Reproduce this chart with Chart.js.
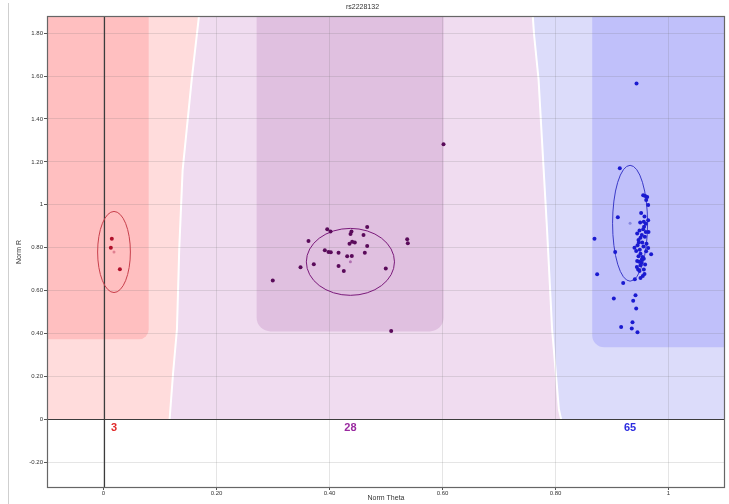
<!DOCTYPE html>
<html>
<head>
<meta charset="utf-8">
<title>rs2228132</title>
<script src="https://cdn.jsdelivr.net/npm/chart.js@4/dist/chart.umd.min.js"></script>
<style>
  html, body { margin: 0; padding: 0; background: #ffffff; }
  #plot { display: block; }
</style>
</head>
<body>
<canvas id="plot" width="729" height="504"></canvas>
<script>
// ---- Genotype calls: normalised theta / R per sample ----
const aaTheta = [0.0147, 0.0130, 0.0290];
const aaR     = [0.842, 0.800, 0.700];

const abTheta = [0.2996, 0.3487, 0.3628, 0.3722, 0.3960, 0.4018, 0.3917, 0.3982, 0.4023, 0.4160,
                 0.4160, 0.4253, 0.4313, 0.4395, 0.4354, 0.4402, 0.4448, 0.4372, 0.4389, 0.4602,
                 0.4667, 0.4667, 0.4625, 0.4996, 0.5375, 0.5386, 0.5092, 0.6018];
const abR     = [0.647, 0.709, 0.831, 0.723, 0.886, 0.875, 0.788, 0.780, 0.779, 0.777,
                 0.715, 0.691, 0.760, 0.761, 0.819, 0.828, 0.824, 0.864, 0.875, 0.859,
                 0.896, 0.808, 0.777, 0.703, 0.839, 0.821, 0.412, 1.282];

const bbTheta = [0.9434, 0.9138, 0.9552, 0.9587, 0.9623, 0.9605, 0.9640, 0.9103, 0.9575, 0.9640,
                 0.9499, 0.9563, 0.9568, 0.9552, 0.9598, 0.9646, 0.9446, 0.9528, 0.8690, 0.9504,
                 0.9469, 0.9475, 0.9535, 0.9611, 0.9398, 0.9640, 0.9428, 0.9056, 0.9504, 0.9693,
                 0.9540, 0.9563, 0.9446, 0.9481, 0.9522, 0.8737, 0.9504, 0.9463, 0.9563, 0.9487,
                 0.9575, 0.9545, 0.9504, 0.9404, 0.9198, 0.9416, 0.9032, 0.9375, 0.9428, 0.9363,
                 0.9162, 0.9350, 0.9451, 0.9516, 0.9598, 0.9487, 0.9581, 0.9452, 0.9557, 0.9492,
                 0.9604, 0.9469, 0.9528, 0.9586, 0.9440];
const bbR     = [1.565, 1.170, 1.044, 1.041, 1.036, 1.022, 0.999, 0.942, 0.946, 0.928,
                 0.918, 0.921, 0.898, 0.886, 0.873, 0.873, 0.866, 0.859, 0.842, 0.847,
                 0.836, 0.824, 0.824, 0.819, 0.800, 0.799, 0.785, 0.780, 0.772, 0.769,
                 0.757, 0.749, 0.738, 0.735, 0.730, 0.676, 0.718, 0.699, 0.699, 0.692,
                 0.678, 0.668, 0.659, 0.653, 0.636, 0.578, 0.563, 0.553, 0.517, 0.452,
                 0.430, 0.424, 0.406, 0.962, 0.912, 0.880, 0.851, 0.812, 0.806, 0.790,
                 0.783, 0.760, 0.745, 0.722, 0.710];

// ---- Cluster definitions (AA, AB, BB) ----
const clusterTheta  = [0.0186, 0.437, 0.932];
const clusterR      = [0.780, 0.734, 0.914];
const clusterThetaSd = [0.029, 0.078, 0.031];
const clusterRSd     = [0.189, 0.156, 0.270];

// core call zones
const coreThetaMin = [-0.10, 0.271, 0.865];
const coreThetaMax = [0.080, 0.602, 1.100];
const coreRMin     = [0.373, 0.410, 0.336];

// boundaries between AA|AB and AB|BB call regions
const leftBoundaryR      = [0, 0.21, 0.42, 0.79, 1.16, 1.58, 1.95];
const leftBoundaryTheta  = [0.117, 0.123, 0.130, 0.134, 0.140, 0.156, 0.172];
const rightBoundaryR     = [0, 0.047, 0.233, 0.42, 0.629, 0.886, 1.585, 1.795, 1.95];
const rightBoundaryTheta = [0.810, 0.806, 0.800, 0.794, 0.790, 0.785, 0.770, 0.762, 0.758];

// ---- Axis ticks ----
const xTicks = [0, 0.2, 0.4, 0.6, 0.8, 1];
const yTicks = [-0.2, 0, 0.2, 0.4, 0.6, 0.8, 1, 1.2, 1.4, 1.6, 1.8];

const zoneLight = ['#ffdcdc', '#f0dcf0', '#dcdcfa'];
const zoneDark  = ['#ffbfc0', '#e0c0e0', '#c0c0fa'];
const dotColor  = ['#b0102a', '#5a0a5a', '#1a1ad0'];
const ringColor = ['#c8404c', '#7a1a7a', '#3a3ac8'];
const meanColor = ['#e08090', '#b070b0', '#8888e0'];
const countColor = ['#e02828', '#9a2aa0', '#2c2ce0'];
const callTheta = [aaTheta, abTheta, bbTheta];
const callR = [aaR, abR, bbR];

function pts(tx, ry) { return tx.map((t, i) => ({ x: t, y: ry[i] })); }
function fmtTick(v) {
  if (Math.abs(v) < 1e-9) return '0';
  if (Math.abs(v - Math.round(v)) < 1e-9) return String(Math.round(v));
  return v.toFixed(2);
}

const zonesPlugin = {
  id: 'zones',
  beforeDraw(chart) {
    const { ctx, chartArea: a, scales: { x, y } } = chart;
    const px = v => x.getPixelForValue(v), py = v => y.getPixelForValue(v);
    const y0 = py(0);
    const L = leftBoundaryR.map((r, i) => [px(leftBoundaryTheta[i]), py(r)]);
    const R = rightBoundaryR.map((r, i) => [px(rightBoundaryTheta[i]), py(r)]);
    ctx.save();
    ctx.beginPath(); ctx.rect(a.left, a.top, a.width, a.height); ctx.clip();

    // AA light region
    ctx.fillStyle = zoneLight[0];
    ctx.beginPath(); ctx.moveTo(a.left, y0);
    L.forEach(p => ctx.lineTo(p[0], p[1]));
    ctx.lineTo(a.left, a.top - 20); ctx.closePath(); ctx.fill();

    // AB light region
    ctx.fillStyle = zoneLight[1];
    ctx.beginPath();
    L.forEach((p, i) => i ? ctx.lineTo(p[0], p[1]) : ctx.moveTo(p[0], p[1]));
    R.slice().reverse().forEach(p => ctx.lineTo(p[0], p[1]));
    ctx.closePath(); ctx.fill();

    // BB light region
    ctx.fillStyle = zoneLight[2];
    ctx.beginPath();
    R.forEach((p, i) => i ? ctx.lineTo(p[0], p[1]) : ctx.moveTo(p[0], p[1]));
    ctx.lineTo(a.right + 5, a.top - 20); ctx.lineTo(a.right + 5, y0);
    ctx.closePath(); ctx.fill();

    // core zones
    const radii = [[0, 0, 10, 0], [0, 0, 14, 14], [0, 0, 0, 12]];
    for (let i = 0; i < 3; i++) {
      const x1 = Math.max(px(coreThetaMin[i]), a.left - 2);
      const x2 = Math.min(px(coreThetaMax[i]), a.right + 2);
      const yb = py(coreRMin[i]);
      ctx.fillStyle = zoneDark[i];
      ctx.beginPath();
      ctx.roundRect(x1, a.top - 20, x2 - x1, yb - a.top + 20, radii[i]);
      ctx.fill();
    }

    // white separators
    ctx.strokeStyle = '#ffffff';
    ctx.lineWidth = 2;
    [L, R].forEach(B => {
      ctx.beginPath();
      B.forEach((p, i) => i ? ctx.lineTo(p[0], p[1]) : ctx.moveTo(p[0], p[1]));
      ctx.stroke();
    });
    ctx.restore();
  },
  beforeDatasetsDraw(chart) {
    const { ctx, chartArea: a, scales: { x, y } } = chart;
    const px = v => x.getPixelForValue(v), py = v => y.getPixelForValue(v);
    ctx.save();
    // zero axes
    ctx.strokeStyle = '#3c3c3c';
    ctx.lineWidth = 1.2;
    ctx.beginPath();
    ctx.moveTo(Math.round(px(0)) + 0.5, a.top); ctx.lineTo(Math.round(px(0)) + 0.5, a.bottom);
    ctx.moveTo(a.left, Math.round(py(0)) + 0.5); ctx.lineTo(a.right, Math.round(py(0)) + 0.5);
    ctx.stroke();
    // cluster ellipses
    ctx.lineWidth = 1;
    for (let i = 0; i < 3; i++) {
      const cx = px(clusterTheta[i]), cy = py(clusterR[i]);
      const rx = Math.abs(px(clusterTheta[i] + clusterThetaSd[i]) - cx);
      const ry = Math.abs(py(clusterR[i] + clusterRSd[i]) - cy);
      ctx.strokeStyle = ringColor[i];
      ctx.beginPath(); ctx.ellipse(cx, cy, rx, ry, 0, 0, Math.PI * 2); ctx.stroke();
    }
    ctx.restore();
  },
  afterDraw(chart) {
    const { ctx, chartArea: a, scales: { x, y } } = chart;
    const px = v => x.getPixelForValue(v), py = v => y.getPixelForValue(v);
    ctx.save();
    // sample counts per call
    ctx.font = 'bold 11px "Liberation Sans", Arial, sans-serif';
    ctx.textAlign = 'center';
    ctx.textBaseline = 'middle';
    for (let i = 0; i < 3; i++) {
      ctx.fillStyle = countColor[i];
      ctx.fillText(String(callTheta[i].length), px(clusterTheta[i]), py(0) + 9);
    }
    // plot frame
    ctx.strokeStyle = '#666666';
    ctx.lineWidth = 1.2;
    ctx.strokeRect(a.left + 0.5, a.top + 0.5, a.width - 1, a.height - 1);
    // panel edge
    ctx.strokeStyle = '#cfcfcf';
    ctx.lineWidth = 1;
    ctx.beginPath(); ctx.moveTo(8.5, 3); ctx.lineTo(8.5, 504); ctx.stroke();
    ctx.restore();
  }
};

const datasets = [];
for (let i = 0; i < 3; i++) {
  datasets.push({
    data: pts(callTheta[i], callR[i]),
    backgroundColor: dotColor[i],
    borderWidth: 0,
    pointRadius: 2,
    pointHoverRadius: 2
  });
}
datasets.push({
  data: pts(clusterTheta, clusterR),
  backgroundColor: meanColor,
  borderWidth: 0,
  pointRadius: 1.5
});

const tickFont = { family: '"Liberation Sans", Arial, sans-serif', size: 6 };
const titleFont = { family: '"Liberation Sans", Arial, sans-serif', size: 7, weight: 'normal' };
const gridColor = 'rgba(110,110,110,0.18)';

new Chart(document.getElementById('plot'), {
  type: 'scatter',
  data: { datasets },
  options: {
    responsive: false,
    animation: false,
    devicePixelRatio: 1,
    layout: { padding: { left: 0, right: 4, top: 0, bottom: 0 } },
    plugins: {
      legend: { display: false },
      tooltip: { enabled: false },
      title: {
        display: true,
        text: 'rs2228132',
        color: '#333333',
        font: titleFont,
        padding: { top: 3, bottom: 4.6 }
      }
    },
    scales: {
      x: {
        type: 'linear',
        min: -0.1,
        max: 1.1,
        afterBuildTicks: s => { s.ticks = xTicks.map(v => ({ value: v })); },
        afterFit: s => { s.height = 16; },
        ticks: { callback: fmtTick, font: tickFont, color: '#333', padding: 0, maxRotation: 0, autoSkip: false },
        grid: { color: gridColor, tickColor: '#555', tickLength: 2 },
        border: { display: false },
        title: { display: true, text: 'Norm Theta', font: titleFont, color: '#333', padding: { top: 0, bottom: 2 } }
      },
      y: {
        type: 'linear',
        min: -0.32,
        max: 1.88,
        afterBuildTicks: s => { s.ticks = yTicks.map(v => ({ value: v })); },
        afterFit: s => { s.width = 47; },
        ticks: { callback: fmtTick, font: tickFont, color: '#333', padding: 1, autoSkip: false },
        grid: { color: gridColor, tickColor: '#555', tickLength: 3 },
        border: { display: false },
        title: { display: true, text: 'Norm R', font: titleFont, color: '#333', padding: { top: 15, bottom: 0 } }
      }
    }
  },
  plugins: [zonesPlugin]
});
</script>
</body>
</html>
